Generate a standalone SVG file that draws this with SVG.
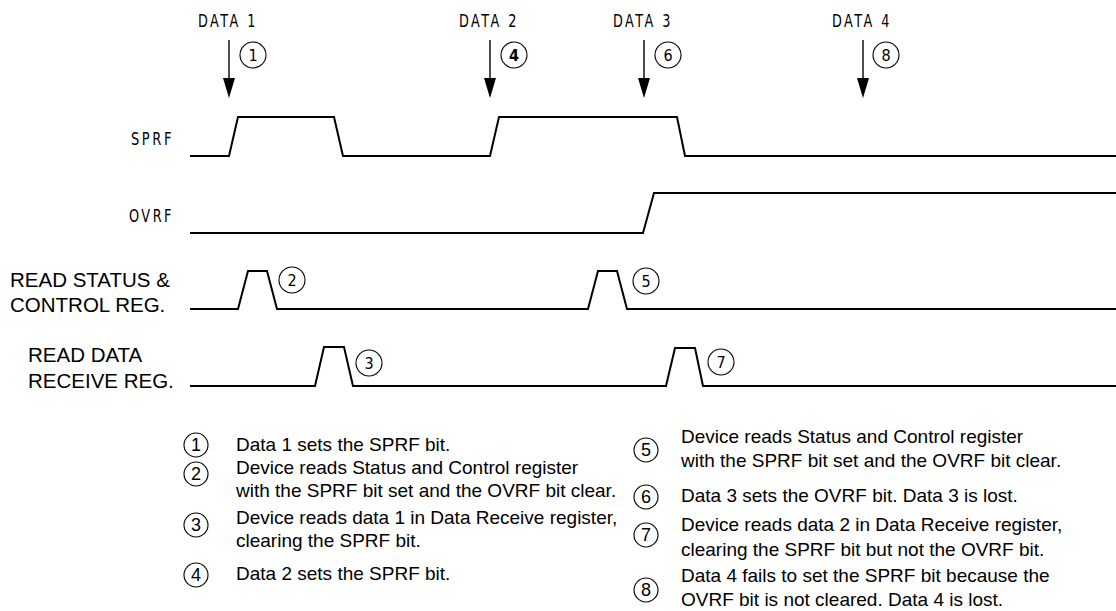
<svg xmlns="http://www.w3.org/2000/svg" width="1116" height="611" viewBox="0 0 1116 611">
<defs>
<style>
.wave{fill:none;stroke:#000;stroke-width:2;stroke-linejoin:miter}
.arr{stroke:#000;stroke-width:1.4}
.head{fill:#000}
.cnd{font-family:"Liberation Sans Narrow","DejaVu Sans Condensed","Liberation Sans",sans-serif;fill:#000}
.lbl{font-family:"Liberation Sans",Arial,sans-serif;font-size:20.5px;fill:#000}
.leg{font-family:"Liberation Sans",Arial,sans-serif;font-size:19px;fill:#000}
.circ{fill:none;stroke:#000;stroke-width:1.1}
.num{font-family:"Liberation Sans Narrow","DejaVu Sans Condensed","Liberation Sans",sans-serif;font-size:16px;text-anchor:middle;fill:#000}
.lnum{font-family:"Liberation Sans",Arial,sans-serif;font-size:18px;text-anchor:middle;fill:#000}
</style>
</defs>
<rect width="1116" height="611" fill="#fff"/>

<g id="data-labels" class="cnd" font-size="17" letter-spacing="3">
<text x="198" y="27" textLength="60" lengthAdjust="spacingAndGlyphs">DATA 1</text>
<text x="459" y="27" textLength="60" lengthAdjust="spacingAndGlyphs">DATA 2</text>
<text x="613" y="27" textLength="60" lengthAdjust="spacingAndGlyphs">DATA 3</text>
<text x="832" y="27" textLength="60" lengthAdjust="spacingAndGlyphs">DATA 4</text>
</g>

<g id="connectors">
<line class="arr" x1="229" y1="40" x2="229" y2="80"/><polygon class="head" points="223,78 235,78 229,98"/>
<line class="arr" x1="490" y1="40" x2="490" y2="80"/><polygon class="head" points="484,78 496,78 490,98"/>
<line class="arr" x1="644" y1="40" x2="644" y2="80"/><polygon class="head" points="638,78 650,78 644,98"/>
<line class="arr" x1="863" y1="40" x2="863" y2="80"/><polygon class="head" points="857,78 869,78 863,98"/>
</g>

<g id="markers-top">
<circle class="circ" cx="253" cy="55" r="13"/><text class="num" x="253" y="61">1</text>
<circle class="circ" cx="514" cy="55" r="13"/><text class="num" x="514" y="61" font-weight="bold">4</text>
<circle class="circ" cx="668" cy="55" r="13"/><text class="num" x="668" y="61">6</text>
<circle class="circ" cx="886" cy="55" r="13"/><text class="num" x="886" y="61">8</text>
</g>

<g id="sprf">
<text class="cnd" x="131" y="145" font-size="17" letter-spacing="3" textLength="43" lengthAdjust="spacingAndGlyphs">SPRF</text>
<path class="wave" d="M190 156 H229 L238 117 H334 L343 156 H490 L499 117 H677 L685 156 H1116"/>
</g>

<g id="ovrf">
<text class="cnd" x="129" y="222" font-size="17" letter-spacing="3" textLength="45" lengthAdjust="spacingAndGlyphs">OVRF</text>
<path class="wave" d="M190 233 H643 L654 193 H1116"/>
</g>

<g id="read-status">
<text class="lbl" x="10" y="287">READ STATUS &amp;</text>
<text class="lbl" x="10" y="312">CONTROL REG.</text>
<path class="wave" d="M190 309 H238 L248 271 H267 L277 309 H588 L598 271 H617 L627 309 H1116"/>
<circle class="circ" cx="292" cy="280" r="13"/><text class="num" x="292" y="286">2</text>
<circle class="circ" cx="646" cy="281" r="13"/><text class="num" x="646" y="287">5</text>
</g>

<g id="read-data">
<text class="lbl" x="28" y="362">READ DATA</text>
<text class="lbl" x="28" y="388">RECEIVE REG.</text>
<path class="wave" d="M190 386 H315 L324 347 H344 L353 386 H666 L675 348 H695 L703 386 H1116"/>
<circle class="circ" cx="369" cy="363" r="13"/><text class="num" x="369" y="369">3</text>
<circle class="circ" cx="721" cy="362" r="13"/><text class="num" x="721" y="368">7</text>
</g>

<g id="legend-left">
<circle class="circ" cx="196" cy="445" r="12"/><text class="lnum" x="196" y="451">1</text>
<text class="leg" x="236" y="451">Data 1 sets the SPRF bit.</text>
<circle class="circ" cx="196" cy="474" r="12"/><text class="lnum" x="196" y="480">2</text>
<text class="leg" x="236" y="474">Device reads Status and Control register</text>
<text class="leg" x="236" y="497">with the SPRF bit set and the OVRF bit clear.</text>
<circle class="circ" cx="196" cy="525" r="12"/><text class="lnum" x="196" y="531">3</text>
<text class="leg" x="236" y="524">Device reads data 1 in Data Receive register,</text>
<text class="leg" x="236" y="547">clearing the SPRF bit.</text>
<circle class="circ" cx="196" cy="575" r="12"/><text class="lnum" x="196" y="581">4</text>
<text class="leg" x="236" y="580">Data 2 sets the SPRF bit.</text>
</g>

<g id="legend-right">
<circle class="circ" cx="646" cy="450" r="12"/><text class="lnum" x="646" y="456">5</text>
<text class="leg" x="681" y="443">Device reads Status and Control register</text>
<text class="leg" x="681" y="467">with the SPRF bit set and the OVRF bit clear.</text>
<circle class="circ" cx="646" cy="497" r="12"/><text class="lnum" x="646" y="503">6</text>
<text class="leg" x="681" y="502">Data 3 sets the OVRF bit. Data 3 is lost.</text>
<circle class="circ" cx="646" cy="535" r="12"/><text class="lnum" x="646" y="541">7</text>
<text class="leg" x="681" y="531">Device reads data 2 in Data Receive register,</text>
<text class="leg" x="681" y="556">clearing the SPRF bit but not the OVRF bit.</text>
<circle class="circ" cx="646" cy="590" r="12"/><text class="lnum" x="646" y="596">8</text>
<text class="leg" x="681" y="582">Data 4 fails to set the SPRF bit because the</text>
<text class="leg" x="681" y="606">OVRF bit is not cleared. Data 4 is lost.</text>
</g>
</svg>
